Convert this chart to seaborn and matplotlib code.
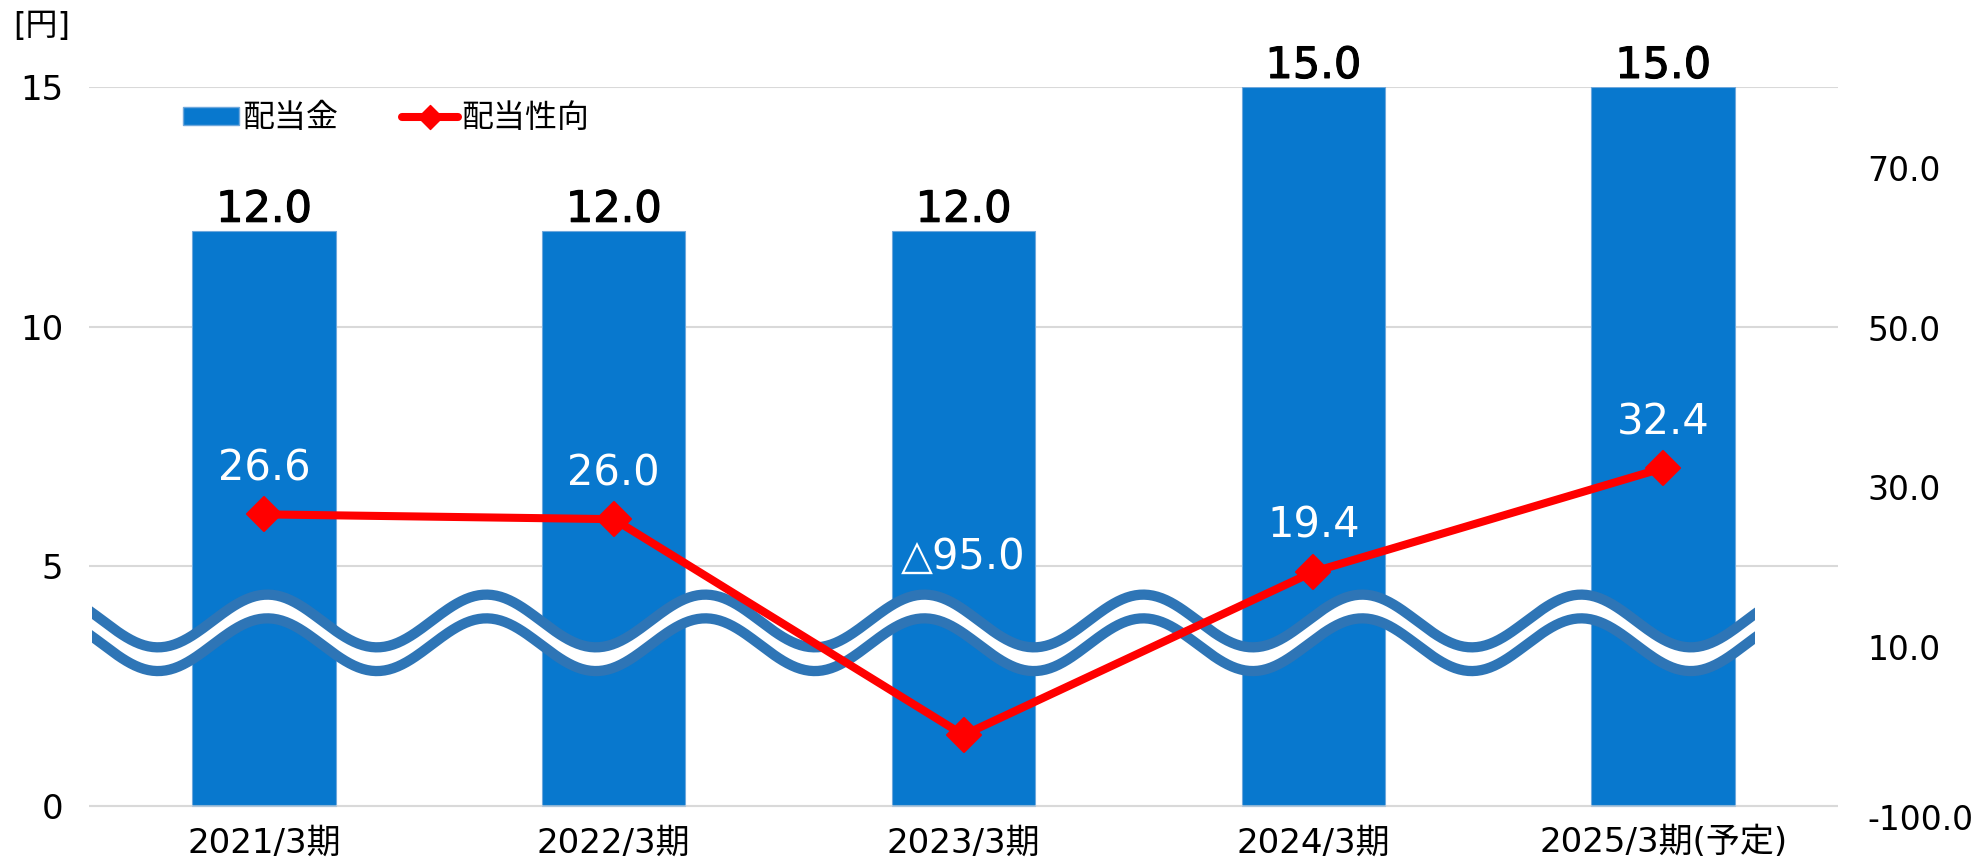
import numpy as np
import pandas as pd
import matplotlib
matplotlib.use("Agg")
import matplotlib.pyplot as plt
import matplotlib.patheffects as pe
from matplotlib.lines import Line2D
from matplotlib.patches import Patch, Rectangle
from matplotlib.markers import MarkerStyle
from matplotlib.ticker import NullLocator
import seaborn as sns

sns.set_style("white")
plt.rcParams["font.family"] = ["DejaVu Sans", "Noto Sans CJK JP"]
plt.rcParams["text.color"] = "black"
plt.rcParams["xtick.color"] = "black"
plt.rcParams["ytick.color"] = "black"

periods = ["2021/3期", "2022/3期", "2023/3期", "2024/3期", "2025/3期(予定)"]
dividend = [12.0, 12.0, 12.0, 15.0, 15.0]
payout_ratio = [26.6, 26.0, -95.0, 19.4, 32.4]

left_ticks = [0, 5, 10, 15]
right_ticks = [-100, 10, 30, 50, 70]

BAR_COLOR = "#0878CE"
BAR_EDGE = "#6FA8DC"
LINE_COLOR = "#FF0000"
WAVE_COLOR = "#2E75B6"

# broken right axis: below 10 the scale is squeezed (the wave hides the gap)
axis_vals = [-120, -100, -90, 10, 120]
axis_pos = [-7.07, -0.23, 3.19, 3.32, 21.635]


def fwd(v):
    return np.interp(v, axis_vals, axis_pos)


def inv(y):
    return np.interp(y, axis_pos, axis_vals)


df = pd.DataFrame({"period": periods, "dividend": dividend, "payout": payout_ratio})

fig = plt.figure(figsize=(19.77, 8.63), dpi=100)
ax = fig.add_axes([0.04502, 0.05214, 0.88467, 0.8471])

sns.barplot(data=df, x="period", y="dividend", color=BAR_COLOR, saturation=1,
            width=0.41, edgecolor=BAR_EDGE, linewidth=0.8, ax=ax, zorder=2)
ax.set_xlim(-0.5, 4.5)
ax.set_ylim(-0.25, 15)
ax.set_yticks(left_ticks, labels=[str(t) for t in left_ticks])
ax.yaxis.grid(True, color="#D9D9D9", lw=1.5)
ax.xaxis.grid(False)
ax.set_axisbelow(True)
ax.axhline(0, color="#D9D9D9", lw=1.5, alpha=0.6, zorder=3)
ax.tick_params(axis="y", length=0, pad=18.7, labelsize=24.5)
ax.tick_params(axis="x", length=0, pad=6, labelsize=24.5)
ax.set_xlabel("")
ax.set_ylabel("")
for s in ax.spines.values():
    s.set_visible(False)

# wavy break mark
xw = np.linspace(-0.6, 4.4, 800)
upper = 3.86 - 0.55 * np.cos(2 * np.pi * (xw + 0.303) / 0.626)
lower = upper - 0.495
clip = Rectangle((-0.491, 0), 4.754, 10, transform=ax.transData)
band = ax.fill_between(xw, lower, upper, color="white", lw=0, zorder=3)
band.set_clip_path(clip)
for yy in (upper, lower):
    ln, = ax.plot(xw, yy, color=WAVE_COLOR, lw=7.4, zorder=4)
    ln.set_clip_path(clip)

# bar labels
for i, v in enumerate(dividend):
    ax.annotate(f"{v:.1f}", (i, v), xytext=(0, 6.5), textcoords="offset points",
                ha="center", va="baseline", fontsize=31, color="black",
                path_effects=[pe.withStroke(linewidth=0.8, foreground="black")],
                annotation_clip=False, zorder=5)

# payout ratio on the right axis
ax2 = ax.twinx()
ax2.set_yscale("function", functions=(fwd, inv))
ax2.set_ylim(inv(-0.25), inv(15))
diamond = MarkerStyle("D", joinstyle="round")
sns.lineplot(x=df.index, y=df["payout"], ax=ax2, color=LINE_COLOR, lw=5.8,
             marker=diamond, ms=17, mew=1.5, mec=LINE_COLOR, mfc=LINE_COLOR)
ax2.set_xlim(-0.5, 4.5)
ax2.set_yticks(right_ticks, labels=[f"{t:.1f}" for t in right_ticks])
ax2.yaxis.set_minor_locator(NullLocator())
ax2.tick_params(axis="y", length=0, pad=21, labelsize=23.8)
ax2.set_xlabel("")
ax2.set_ylabel("")
ax2.grid(False)
for s in ax2.spines.values():
    s.set_visible(False)

for i, v in enumerate(payout_ratio):
    txt = f"△{abs(v):.1f}" if v < 0 else f"{v:.1f}"
    dy = 120 if v < 0 else 24.5
    ax2.annotate(txt, (i, v), xytext=(0, dy), textcoords="offset points",
                 ha="center", va="baseline", fontsize=30, color="white",
                 annotation_clip=False, zorder=6)

# legend
handles = [
    Patch(facecolor=BAR_COLOR, edgecolor=BAR_EDGE),
    Line2D([], [], color=LINE_COLOR, lw=5.8, marker=diamond, ms=12),
]
fig.legend(handles, ["配当金", "配当性向"], loc="center left",
           bbox_to_anchor=(183 / 1977, 1 - 119 / 863), ncol=2, frameon=False,
           fontsize=23, handlelength=1.75, handleheight=0.5, handletextpad=0.1,
           columnspacing=2.0, borderpad=0, borderaxespad=0)

fig.text(13 / 1977, 1 - 27 / 863, "[円]", fontsize=23, ha="left", va="center")

fig.savefig("out.png", dpi=100)
